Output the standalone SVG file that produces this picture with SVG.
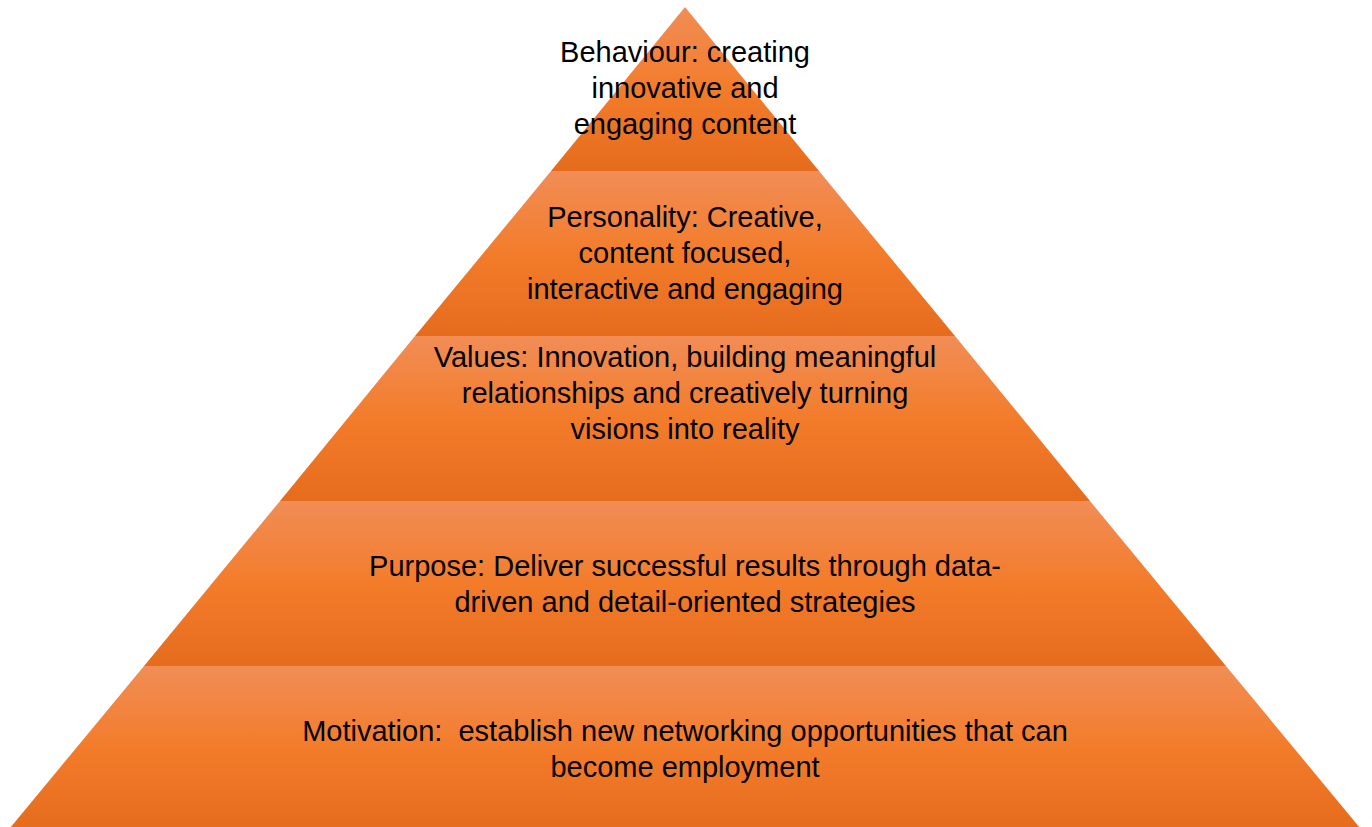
<svg xmlns="http://www.w3.org/2000/svg" width="1372" height="827" viewBox="0 0 1372 827">
<defs>
<linearGradient id="g" x1="0" y1="0" x2="0" y2="1">
<stop offset="0" stop-color="#F18D56"/>
<stop offset="0.5" stop-color="#F37C2B"/>
<stop offset="1" stop-color="#E56C1D"/>
</linearGradient>
</defs>
<style>
.layer{fill:url(#g);}
text{font-family:"Liberation Sans",Arial,sans-serif;font-size:29px;fill:#000;text-anchor:middle;white-space:pre;}
</style>
<rect width="1372" height="827" fill="#fff"/>
<g id="layer1"><polygon class="layer" points="685,7 819,171 551,171"/>
<text x="685" y="62">Behaviour: creating</text>
<text x="685" y="98">innovative and</text>
<text x="685" y="134">engaging content</text></g>
<g id="layer2"><polygon class="layer" points="551,171 819,171 955,336 415,336"/>
<text x="685" y="227">Personality: Creative,</text>
<text x="685" y="263">content focused,</text>
<text x="685" y="299">interactive and engaging</text></g>
<g id="layer3"><polygon class="layer" points="415,336 955,336 1090,501 280,501"/>
<text x="685" y="367">Values: Innovation, building meaningful</text>
<text x="685" y="403">relationships and creatively turning</text>
<text x="685" y="439">visions into reality</text></g>
<g id="layer4"><polygon class="layer" points="280,501 1090,501 1226,666 144,666"/>
<text x="685" y="576">Purpose: Deliver successful results through data-</text>
<text x="685" y="612">driven and detail-oriented strategies</text></g>
<g id="layer5"><polygon class="layer" points="144,666 1226,666 1360,828 10,828"/>
<text x="685" y="741">Motivation:  establish new networking opportunities that can</text>
<text x="685" y="777">become employment</text></g>
<g id="connectors"/>
</svg>
